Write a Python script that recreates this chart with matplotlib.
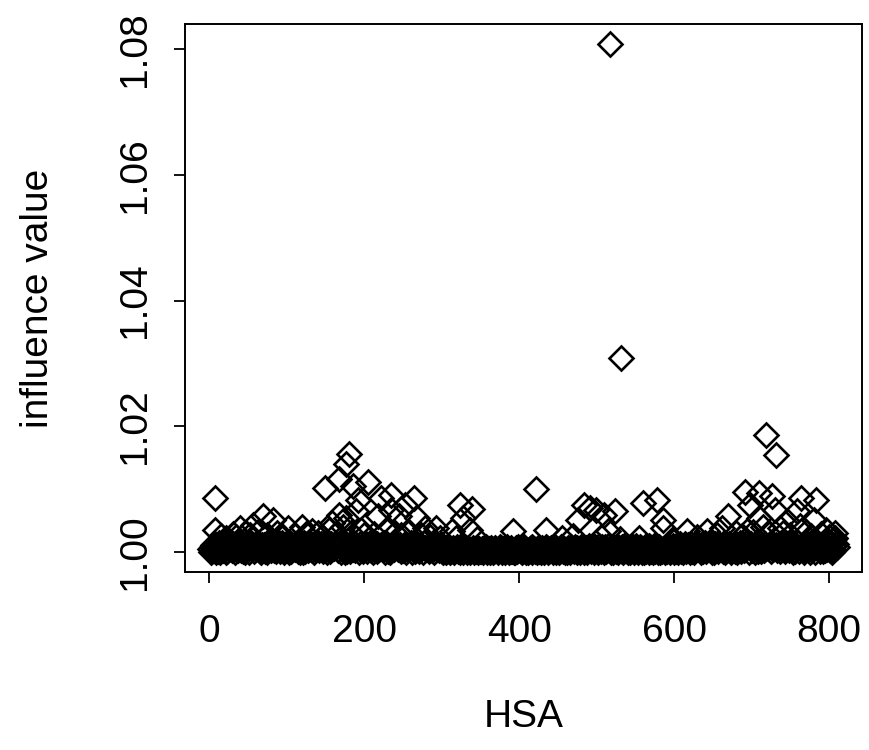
import numpy as np
import matplotlib.pyplot as plt

# baseline band, one digit per HSA, value = 1 + digit * 0.00016
base_digits = (
    "3051728406 1940637285 0618394725 8306152947 2817405963 0495827163 5928140736 7160395824 4082617395 1739506284"
    "6204817359 3758160492 0916482735 8527093641 2648051973 7093518264 4815726390 9362047158 1574839206 6208395174"
    "3817064925 0492718536 7263950481 5108246379 9635071842 2870436159 6049182735 1725609483 4361857290 8093426571"
    "2041302513 0324102435 1203420153 4102305214 0231540321 1302425103 3014201342 2103524031 0425130214 1302041523"
    "3140251302 0213405231 2504132014 1032540213 4201352031 0315241302 2043105324 1524032015 3205143026 4135206241"
    "2063415207 5130624031 0426135042 3150624310 1405263041 6203154026 0514326051 2406135402 5031642053 1620435160"
    "4172058316 0638152740 2815073946 7350281649 1947362805 5082719364 3619408257 8204635179 0573918462 6391750284"
    "2850396174 9173628405 4068193572 0725481936 6319075284 8402716359 1957340628 5683019247 3029586174 7146203958"
    "2930617485"
)

# HSAs a little above the band
mid_idx = [15, 22, 30, 35, 47, 52, 63, 75, 88, 95, 110, 125, 140, 145, 155, 163,
           172, 183, 196, 200, 212, 228, 240, 248, 258, 273, 285, 298, 318, 345,
           455, 470, 505, 530, 555, 598, 630, 655, 680, 688, 702, 715, 722, 740,
           750, 770, 776, 790, 800, 806]
mid_val = [1.0025, 1.0022, 1.0028, 1.0024, 1.0030, 1.0026, 1.0032, 1.0027, 1.0029,
           1.0023, 1.0025, 1.0028, 1.0030, 1.0024, 1.0035, 1.0028, 1.0040, 1.0030,
           1.0034, 1.0026, 1.0028, 1.0035, 1.0030, 1.0026, 1.0032, 1.0027, 1.0024,
           1.0022, 1.0022, 1.0020, 1.0022, 1.0025, 1.0024, 1.0020, 1.0022, 1.0020,
           1.0024, 1.0026, 1.0030, 1.0025, 1.0032, 1.0040, 1.0028, 1.0030, 1.0026,
           1.0032, 1.0025, 1.0028, 1.0024, 1.0020]

# clearly separated HSAs
high_idx = [8, 8, 149, 168, 180, 177, 185, 205, 192, 189, 222, 234, 253, 264, 268,
            218, 235, 324, 339, 328, 337, 392, 422, 69, 82, 40, 56, 101, 119, 132,
            158, 167, 176, 292, 313, 245, 279,
            434, 484, 491, 499, 476, 510, 524, 514, 560, 578, 585, 586, 617, 642,
            670, 662, 691, 698, 710, 726, 730, 709, 694, 764, 783, 758, 781, 762,
            796, 808, 807, 736, 745,
            517, 531, 719, 731]
high_val = [1.0086, 1.0035, 1.0102, 1.0116, 1.0156, 1.0140, 1.0105, 1.0111, 1.0083,
            1.0065, 1.0086, 1.0090, 1.0075, 1.0086, 1.0054, 1.0057, 1.0067, 1.0075,
            1.0068, 1.0054, 1.0035, 1.0033, 1.0100, 1.0057, 1.0051, 1.0038, 1.0043,
            1.0037, 1.0040, 1.0033, 1.0046, 1.0059, 1.0054, 1.0038, 1.0033, 1.0057,
            1.0038,
            1.0035, 1.0075, 1.0070, 1.0067, 1.0051, 1.0059, 1.0065, 1.0033, 1.0078,
            1.0083, 1.0051, 1.0038, 1.0033, 1.0033, 1.0057, 1.0038, 1.0095, 1.0075,
            1.0094, 1.0089, 1.0067, 1.0054, 1.0033, 1.0086, 1.0083, 1.0065, 1.0051,
            1.0041, 1.0035, 1.0030, 1.0022, 1.0038, 1.0049,
            1.0808, 1.0308, 1.0186, 1.0154]

digits = np.array([int(c) for c in base_digits.replace(" ", "")])
hsa = np.arange(1, len(digits) + 1)
infl = 1 + digits * 0.00016

ax_x = []
ax_y = []
used = set(mid_idx) | set(high_idx)
for i, v in zip(hsa, infl):
    if i not in used:
        ax_x.append(i)
        ax_y.append(v)
ax_x += mid_idx + high_idx
ax_y += mid_val + high_val

fig = plt.figure(figsize=(8.7, 7.5), dpi=100)
ax = fig.add_axes([185 / 870, 1 - 572 / 750, 677 / 870, 548 / 750])

ax.plot(ax_x, ax_y, linestyle='none', marker='D', markersize=12,
        markerfacecolor='none', markeredgecolor='black', markeredgewidth=1.9)

n = len(hsa)
xpad = 0.04 * (n - 1)
ax.set_xlim(1 - xpad, n + xpad)
ymin, ymax = min(ax_y), max(ax_y)
ypad = 0.04 * (ymax - ymin)
ax.set_ylim(ymin - ypad, ymax + ypad)

ax.set_xticks([0, 200, 400, 600, 800])
ax.set_yticks([1.00, 1.02, 1.04, 1.06, 1.08])
ax.set_yticklabels(['1.00', '1.02', '1.04', '1.06', '1.08'])

font = 'Liberation Sans'
ax.tick_params(direction='out', length=8, width=1.3, labelsize=28, color='black')
ax.tick_params(axis='x', pad=22)
ax.tick_params(axis='y', pad=15)
for lab in ax.get_xticklabels():
    lab.set_family(font)
for lab in ax.get_yticklabels():
    lab.set_family(font)
    lab.set_rotation(90)
    lab.set_va('center')
    lab.set_ha('right')

for s in ax.spines.values():
    s.set_linewidth(1.4)

ax.set_xlabel('HSA', fontsize=28, family=font)
ax.set_ylabel('influence value', fontsize=28, family=font)
ax.xaxis.set_label_coords(0.5, (572 - 717) / 548)
ax.xaxis.label.set_va('center')
ax.yaxis.set_label_coords((38 - 185) / 677, 0.5)
ax.yaxis.label.set_va('center')

fig.savefig('out.png', dpi=100)
